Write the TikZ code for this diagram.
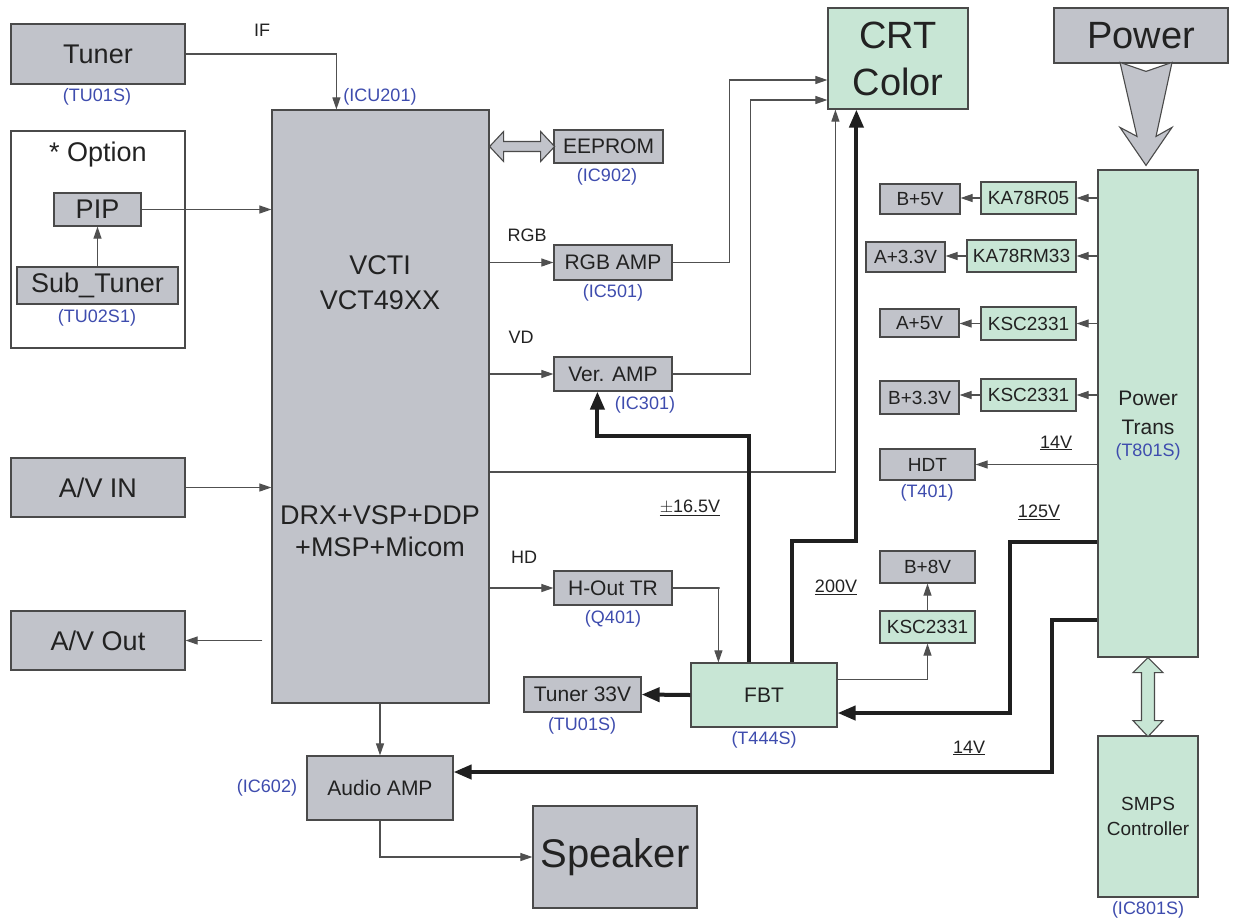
\documentclass[tikz,border=0pt]{standalone}
\usepackage{fontspec}
\setmainfont{Liberation Sans}
\usetikzlibrary{arrows.meta,calc}
\definecolor{greyc}{HTML}{C1C3CA}
\definecolor{greenc}{HTML}{C8E6D5}
\definecolor{bluec}{HTML}{3E4CAE}
\definecolor{bordc}{HTML}{4A4A4A}
\definecolor{linec}{HTML}{505050}
\definecolor{txtc}{HTML}{222222}
\newcommand{\fs}[1]{\fontsize{#1}{#1}\selectfont}
\begin{document}
\begin{tikzpicture}[x=1pt,y=-1pt,
  box/.style={draw=bordc, line width=1.2pt, fill=greyc, inner sep=0pt, align=center, text=txtc},
  gbox/.style={box, fill=greenc},
  conn/.style={draw=linec, line width=1.1pt, -{Triangle[length=12pt,width=8pt]}},
  fat/.style={draw=black!88, line width=4pt, line join=miter, -{Triangle[length=18pt,width=14pt]}},
  ref/.style={text=bluec, font=\fs{18}, inner sep=0pt},
  lbl/.style={text=txtc, font=\fs{18}, inner sep=0pt},
  big/.style={font=\fs{27}},
  mid/.style={font=\fs{21}},
  sml/.style={font=\fs{19}}]
\useasboundingbox (0,0) rectangle (1233,922);
\fill[white] (0,0) rectangle (1233,922);

% left column
\node[box,big,minimum width=174pt,minimum height=60pt] (tuner) at (98,54) {Tuner};
\node[ref] (tunerref) at (97,97) {(TU01S)};
\node[draw=bordc,line width=1.2pt,fill=white,minimum width=174pt,minimum height=217pt,inner sep=0pt] (option) at (98,239.5) {};
\node[text=txtc,font=\fs{27},inner sep=0pt] (optlbl) at (98,155) {* Option};
\node[box,big,minimum width=87pt,minimum height=33pt] (pip) at (97.5,209.5) {PIP};
\node[box,big,minimum width=161pt,minimum height=37pt] (subtuner) at (97.5,285.5) {Sub\_Tuner};
\node[ref] (subref) at (97,318) {(TU02S1)};
\node[box,big,minimum width=174pt,minimum height=59pt] (avin) at (98,487.5) {A/V IN};
\node[box,big,minimum width=174pt,minimum height=59pt] (avout) at (98,640.5) {A/V Out};

% main chip
\node[box,minimum width=217pt,minimum height=593pt] (vcti) at (380.5,406.5) {};
\node[text=txtc,font=\fontsize{27}{35}\selectfont,align=center,inner sep=0pt] (vctit1) at (380,283) {VCTI\\VCT49XX};
\node[text=txtc,font=\fontsize{27}{32}\selectfont,align=center,inner sep=0pt] (vctit2) at (380,531) {DRX+VSP+DDP\\+MSP+Micom};
\node[ref] (vctiref) at (380,97) {(ICU201)};
\node[lbl] (iflbl) at (262,30) {IF};

% middle column
\node[box,mid,minimum width=109pt,minimum height=33pt] (eeprom) at (608.5,146.5) {EEPROM};
\node[ref] (eepref) at (607,177) {(IC902)};
\node[box,mid,minimum width=118pt,minimum height=35pt] (rgbamp) at (613,262.5) {RGB AMP};
\node[ref] (rgbref) at (613,293) {(IC501)};
\node[lbl] (rgblbl) at (527,235) {RGB};
\node[box,mid,minimum width=118pt,minimum height=34pt] (veramp) at (613,374) {Ver. AMP};
\node[ref] (verref) at (645,405) {(IC301)};
\node[lbl] (vdlbl) at (521,337) {VD};
\node[box,mid,minimum width=118pt,minimum height=34pt] (hout) at (613,588) {H-Out TR};
\node[ref] (houtref) at (613,619) {(Q401)};
\node[lbl] (hdlbl) at (524,557) {HD};
\node[box,mid,minimum width=117pt,minimum height=35pt] (tuner33) at (582.5,694.5) {Tuner 33V};
\node[ref] (t33ref) at (582,726) {(TU01S)};
\node[gbox,mid,minimum width=146pt,minimum height=64pt] (fbt) at (764,695) {FBT};
\node[ref] (fbtref) at (764,740) {(T444S)};
\node[box,mid,minimum width=146pt,minimum height=64pt] (audio) at (380,788) {Audio AMP};
\node[ref] (audref) at (267,788) {(IC602)};
\node[box,font=\fs{40},minimum width=164pt,minimum height=102pt] (speaker) at (615,857) {Speaker};
\node[gbox,font=\fontsize{38}{47}\selectfont,minimum width=140pt,minimum height=101pt] (crt) at (898,58.5) {CRT\\Color};

% voltage labels
\node[lbl,font=\fs{18}] (v165) at (690,508) {\underline{$\pm$16.5V}};
\node[lbl,font=\fs{18}] (v200) at (836,587) {\underline{200V}};
\node[lbl,font=\fs{18}] (v125) at (1039,512) {\underline{125V}};
\node[lbl,font=\fs{18}] (v14a) at (1056,443) {\underline{14V}};
\node[lbl,font=\fs{18}] (v14b) at (969,748) {\underline{14V}};

% power side
\node[box,font=\fs{38},minimum width=174pt,minimum height=55pt] (power) at (1141,35.5) {Power};
\node[gbox,minimum width=100pt,minimum height=487pt] (pt) at (1148,413.5) {};
\node[text=txtc,font=\fontsize{21}{29}\selectfont,align=center,inner sep=0pt] (pttxt) at (1148,413) {Power\\Trans};
\node[ref] (ptref) at (1148,452) {(T801S)};
\node[gbox,font=\fontsize{19}{25}\selectfont,minimum width=100pt,minimum height=161pt] (smps) at (1148,816.5) {SMPS\\Controller};
\node[ref] (smpsref) at (1148,910) {(IC801S)};

\node[box,sml,minimum width=80pt,minimum height=30pt] (b5) at (920,199) {B+5V};
\node[gbox,sml,minimum width=95pt,minimum height=32pt] (ka05) at (1028.5,198) {KA78R05};
\node[box,sml,minimum width=79pt,minimum height=30pt] (a33) at (905.5,257) {A+3.3V};
\node[gbox,sml,minimum width=109pt,minimum height=32pt] (ka33) at (1021.5,256) {KA78RM33};
\node[box,sml,minimum width=79pt,minimum height=28pt] (a5) at (919.5,323) {A+5V};
\node[gbox,sml,minimum width=95pt,minimum height=33pt] (ksc1) at (1028.5,323.5) {KSC2331};
\node[box,sml,minimum width=79pt,minimum height=33pt] (b33) at (919.5,397.5) {B+3.3V};
\node[gbox,sml,minimum width=95pt,minimum height=32pt] (ksc2) at (1028.5,395) {KSC2331};
\node[box,sml,minimum width=95pt,minimum height=31pt] (hdt) at (927.5,464.5) {HDT};
\node[ref] (hdtref) at (927,493) {(T401)};
\node[box,sml,minimum width=95pt,minimum height=32pt] (b8) at (927.5,567) {B+8V};
\node[gbox,sml,minimum width=95pt,minimum height=32pt] (ksc8) at (927.5,627) {KSC2331};

% thin connectors
\draw[conn] (tuner.east) -| ($(vcti.north west)+(65,0)$);
\draw[conn] (pip.east) -- (vcti.west |- pip.east);
\draw[conn] (subtuner.north) -- (pip.south);
\draw[conn] (avin.east) -- (vcti.west |- avin.east);
\draw[conn] ($(vcti.west |- avout.east)+(-9,0)$) -- (avout.east);
\draw[conn] (vcti.east |- rgbamp.west) -- (rgbamp.west);
\draw[conn] (vcti.east |- veramp.west) -- (veramp.west);
\draw[conn] (vcti.east |- hout.west) -- (hout.west);
\draw[conn] (rgbamp.east) -- ++(57,0) |- ($(crt.west)+(0,21.5)$);
\draw[conn] (veramp.east) -- ++(78,0) |- ($(crt.west)+(0,41.5)$);
\draw[conn] ($(vcti.east)+(0,65.5)$) -| ($(crt.south west)+(8,0)$);
\draw[conn] (hout.east) -- ++(47,0) -| ($(fbt.north west)+(28,0)$);
\draw[conn] ($(fbt.north east)+(0,17)$) -| (ksc8.south);
\draw[conn] (ksc8.north) -- (b8.south);
\draw[conn] (vcti.south -| audio.north) -- (audio.north);
\draw[conn] (audio.south) |- (speaker.west);
\foreach \r/\o in {ka05/b5, ka33/a33, ksc1/a5, ksc2/b33} {
  \draw[conn] (pt.west |- \r.east) -- (\r.east);
  \draw[conn] (\r.west) -- (\o.east |- \r.west);
}
\draw[conn] (pt.west |- hdt.east) -- (hdt.east);

% thick connectors
\draw[fat] ($(fbt.north west)+(59,0)$) -- ++(0,-226) -| ($(veramp.south west)+(44,0)$);
\draw[fat] ($(fbt.north west)+(102,0)$) -- ++(0,-121) -| ($(crt.south west)+(29,0)$);
\draw[fat] (fbt.west) -- (tuner33.east);
\draw[fat] ($(pt.west)+(0,128.5)$) -- ++(-87,0) |- ($(fbt.east)+(0,18)$);
\draw[fat] ($(pt.west)+(0,206.5)$) -- ++(-45,0) |- ($(audio.east)+(0,-16)$);

% hollow arrows
\begin{scope}[shift={(vcti.east |- eeprom.west)}]
\draw[draw=bordc,line width=1.1pt,fill=greyc,line join=miter]
  (0,0) -- (14,-15) -- (14,-5) -- (51,-5) -- (51,-15) -- (65,0) -- (51,15) -- (51,5) -- (14,5) -- (14,15) -- cycle;
\end{scope}
\begin{scope}[shift={(pt.south)}]
\draw[draw=bordc,line width=1.1pt,fill=greenc,line join=miter]
  (0,0) -- (15,15) -- (6.5,15) -- (6.5,63) -- (15,63) -- (0,79) -- (-15,63) -- (-6.5,63) -- (-6.5,15) -- (-15,15) -- cycle;
\end{scope}
\begin{scope}[shift={(pt.north)}]
\draw[draw=bordc,line width=1.1pt,fill=greyc,line join=miter]
  (-28,-107) -- (-2,-98) -- (24,-107) -- (8,-33) -- (24,-42) -- (-2,-4) -- (-28,-42) -- (-11,-33) -- cycle;
\end{scope}
\end{tikzpicture}
\end{document}
